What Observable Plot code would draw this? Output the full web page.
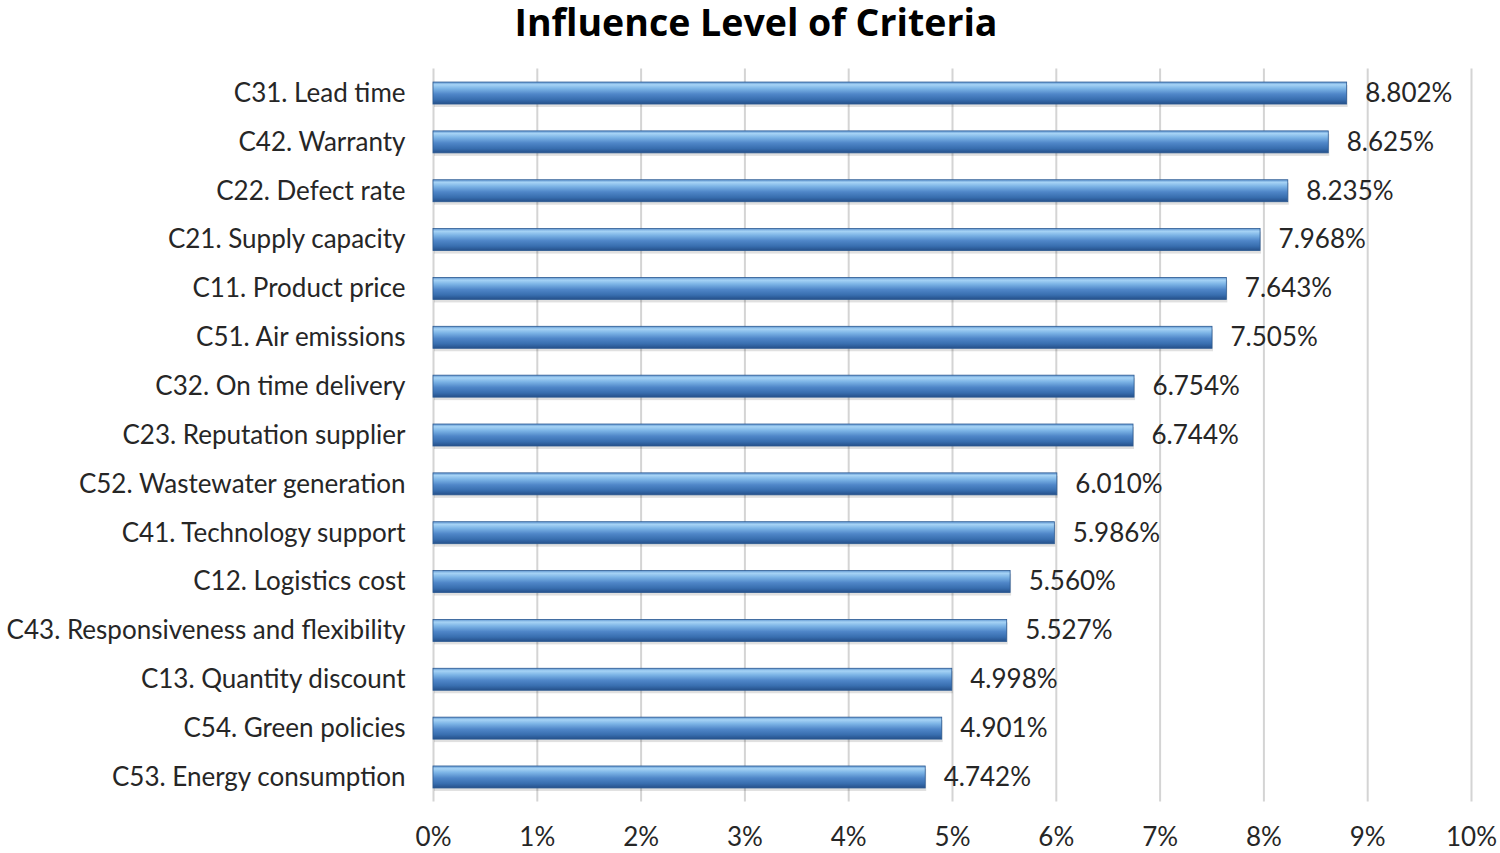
<!DOCTYPE html>
<html>
<head>
<meta charset="utf-8">
<script src="https://cdn.jsdelivr.net/npm/d3@7"></script>
<script src="https://cdn.jsdelivr.net/npm/@observablehq/plot@0.6"></script>
<style>
  body { margin: 0; background: #fff; }
  #title { height: 50px; line-height: 44px; text-align: center; font-family: "Open Sans", sans-serif; font-weight: 700; font-size: 37.5px; color: #000; padding-left: 12px; }
  #chart svg { display: block; }
</style>
</head>
<body>
<div id="title">Influence Level of Criteria</div>
<div id="chart"></div>
<script>
const criteria = [
  "C31. Lead time", "C42. Warranty", "C22. Defect rate", "C21. Supply capacity",
  "C11. Product price", "C51. Air emissions", "C32. On time delivery",
  "C23. Reputation supplier", "C52. Wastewater generation", "C41. Technology support",
  "C12. Logistics cost", "C43. Responsiveness and flexibility", "C13. Quantity discount",
  "C54. Green policies", "C53. Energy consumption"
];
const influence = [8.802, 8.625, 8.235, 7.968, 7.643, 7.505, 6.754, 6.744, 6.010, 5.986, 5.560, 5.527, 4.998, 4.901, 4.742];
const xTicks = [0, 1, 2, 3, 4, 5, 6, 7, 8, 9, 10];

const data = criteria.map((c, i) => ({criterion: c, value: influence[i]}));

const chart = Plot.plot({
  width: 1500,
  height: 803,
  marginLeft: 433,
  marginRight: 29,
  marginTop: 18.6,
  marginBottom: 51.6,
  style: {fontFamily: "Lato, sans-serif", fontSize: "26px", color: "#262626", background: "#fff"},
  x: {domain: [0, 10], ticks: xTicks, tickFormat: d => d + "%", label: null},
  y: {domain: criteria, paddingInner: 0.55, paddingOuter: 0.275, round: false, label: null},
  marks: [
    Plot.ruleX(xTicks, {stroke: "#d4d4d4", strokeWidth: 2}),
    Plot.barX(data, {x: "value", y: "criterion", fill: "#000", fillOpacity: 0.12, dy: 3, dx: 1}),
    Plot.barX(data, {x: "value", y: "criterion", fill: "url(#barGrad)", stroke: "#2c5a92", strokeWidth: 0.8}),
    Plot.text(data, {x: "value", y: "criterion", text: d => d.value.toFixed(3) + "%", textAnchor: "start", dx: 18, fill: "#262626", fontSize: 26}),
    Plot.axisX({ticks: xTicks, tickFormat: d => d + "%", tickSize: 0, tickPadding: 26, fontSize: 26, label: null}),
    Plot.axisY({tickSize: 0, tickPadding: 28, fontSize: 26, label: null})
  ]
});

const ns = "http://www.w3.org/2000/svg";
const defs = document.createElementNS(ns, "defs");
const grad = document.createElementNS(ns, "linearGradient");
grad.setAttribute("id", "barGrad");
grad.setAttribute("x1", "0"); grad.setAttribute("y1", "0");
grad.setAttribute("x2", "0"); grad.setAttribute("y2", "1");
[[0, "#5f95d0"], [0.12, "#a6d3f5"], [0.3, "#7cb4e6"], [0.55, "#4f86c8"], [0.8, "#386eaf"], [1, "#25508a"]].forEach(([o, c]) => {
  const s = document.createElementNS(ns, "stop");
  s.setAttribute("offset", o);
  s.setAttribute("stop-color", c);
  grad.appendChild(s);
});
defs.appendChild(grad);
chart.insertBefore(defs, chart.firstChild);

document.getElementById("chart").appendChild(chart);
</script>
</body>
</html>
